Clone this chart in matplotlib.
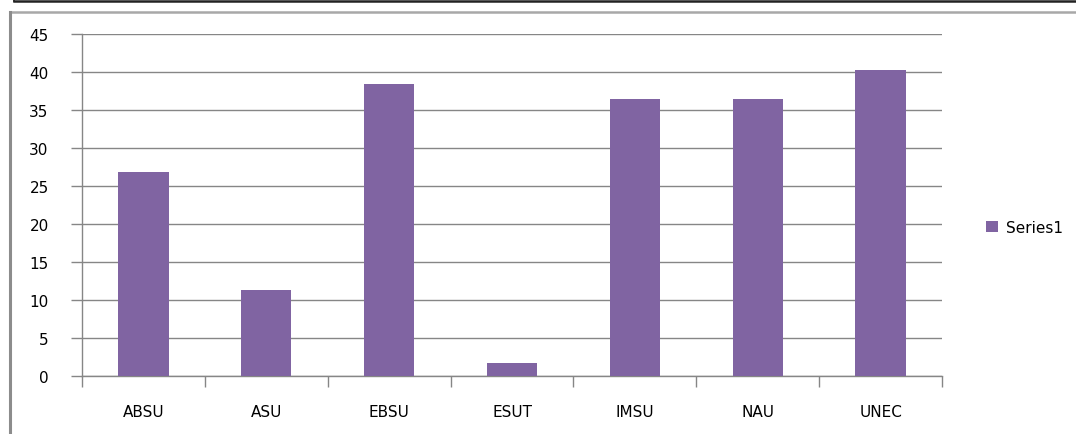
import numpy as np
import matplotlib.pyplot as plt
from matplotlib.lines import Line2D

universities = ["ABSU", "ASU", "EBSU", "ESUT", "IMSU", "NAU", "UNEC"]
series1 = [26.8, 11.3, 38.4, 1.7, 36.4, 36.4, 40.3]
yticks = [0, 5, 10, 15, 20, 25, 30, 35, 40, 45]

W, H = 1076, 435
fig = plt.figure(figsize=(W / 100, H / 100), dpi=100)
ax = fig.add_axes([82 / W, 58 / H, 860 / W, 342 / H])

grey = "#868686"
x = np.arange(len(universities))
ax.bar(x, series1, width=0.41, color="#8064A2", label="Series1", zorder=3)

ax.set_xlim(-0.5, len(universities) - 0.5)
ax.set_ylim(0, 45)
ax.set_yticks(yticks)
ax.set_xticks(x)
ax.set_xticklabels(universities)
ax.set_xticks(np.arange(-0.5, len(universities)), minor=True)
ax.tick_params(axis="x", which="major", length=0, pad=20, labelsize=11)
ax.tick_params(axis="x", which="minor", length=8, color=grey, width=1)
ax.tick_params(axis="y", length=8, color=grey, width=1, pad=16, labelsize=11)
ax.grid(axis="y", color=grey, linewidth=1, zorder=0)

for s in ["top", "right"]:
    ax.spines[s].set_visible(False)
for s in ["left", "bottom"]:
    ax.spines[s].set_color(grey)
    ax.spines[s].set_linewidth(1)

ax.legend(loc="center left", bbox_to_anchor=(1.035, 0.435), frameon=False,
          fontsize=11, handlelength=0.8, handleheight=0.8, handletextpad=0.5)

# outer frame from the screenshot
fig.add_artist(Line2D([14 / W, 1], [1 - 2 / H, 1 - 2 / H], color="#222222", lw=1.8))
fig.add_artist(Line2D([14 / W, 14 / W], [1, 1 - 2 / H], color="#222222", lw=1.2))
fig.add_artist(Line2D([10 / W, 1], [1 - 13 / H, 1 - 13 / H], color="#a8a8a8", lw=1.8))
fig.add_artist(Line2D([10 / W, 10 / W], [0, 1 - 13 / H], color="#8c8c8c", lw=2.2))

fig.savefig("out.png", dpi=100)
